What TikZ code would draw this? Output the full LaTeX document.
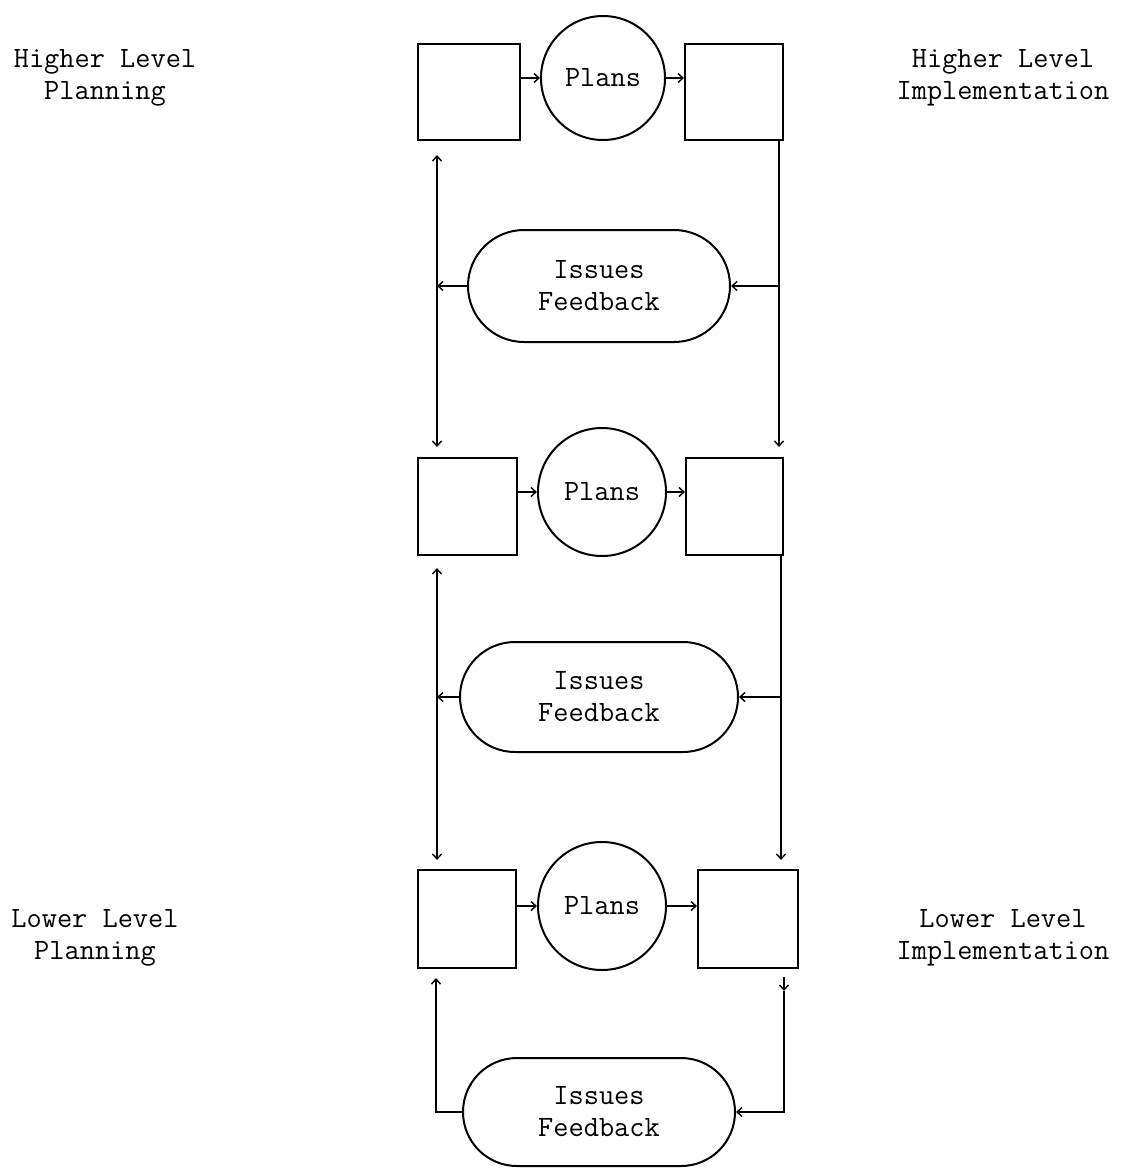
\documentclass[tikz,border=0pt]{standalone}
\usetikzlibrary{arrows.meta,shapes.misc}
\begin{document}
\begin{tikzpicture}[x=1pt,y=-1pt,
  every node/.style={font=\ttfamily\fontsize{29.5}{32}\selectfont},
  blk/.style={draw,line width=2pt,rectangle,inner sep=0pt},
  plan/.style={draw,line width=2pt,circle,inner sep=0pt,minimum size=#1},
  issue/.style={draw,line width=2pt,rounded rectangle,inner sep=0pt,align=center},
  lbl/.style={align=center},
  conn/.style={line width=1.4pt,-{Straight Barb[length=5pt,width=9pt]}},
  conn2/.style={line width=1.4pt,{Straight Barb[length=5pt,width=9pt]}-{Straight Barb[length=5pt,width=9pt]}}]
\useasboundingbox (0,0) rectangle (1125,1170);
% labels
\node[lbl] (hp) at (105,78) {Higher Level\\Planning};
\node[lbl] (hi) at (1003,78) {Higher Level\\Implementation};
\node[lbl] (lp) at (95,938) {Lower Level\\Planning};
\node[lbl] (li) at (1003,938) {Lower Level\\Implementation};
% row 1
\node[blk,minimum width=102pt,minimum height=96pt] (lb1) at (469,92) {};
\node[plan=124pt] (c1) at (603,78) {Plans};
\node[blk,minimum width=98pt,minimum height=96pt] (rb1) at (734,92) {};
% row 2
\node[blk,minimum width=99pt,minimum height=97pt] (lb2) at (467.5,506.5) {};
\node[plan=128pt] (c2) at (602,492) {Plans};
\node[blk,minimum width=97pt,minimum height=97pt] (rb2) at (734.5,506.5) {};
% row 3
\node[blk,minimum width=98pt,minimum height=98pt] (lb3) at (467,919) {};
\node[plan=128pt] (c3) at (602,906) {Plans};
\node[blk,minimum width=100pt,minimum height=98pt] (rb3) at (748,919) {};
% issues
\node[issue,minimum width=262pt,minimum height=112pt] (s1) at (599,286) {Issues\\Feedback};
\node[issue,minimum width=278pt,minimum height=110pt] (s2) at (599,697) {Issues\\Feedback};
\node[issue,minimum width=272pt,minimum height=108pt] (s3) at (599,1112) {Issues\\Feedback};
% horizontal arrows
\draw[conn] (lb1.east |- c1) -- (c1.west);
\draw[conn] (c1.east) -- (rb1.west |- c1);
\draw[conn] (lb2.east |- c2) -- (c2.west);
\draw[conn] (c2.east) -- (rb2.west |- c2);
\draw[conn] (lb3.east |- c3) -- (c3.west);
\draw[conn] (c3.east) -- (rb3.west |- c3);
% vertical links between rows 1 and 2
\coordinate (L1t) at (437,155);
\coordinate (L1b) at (437,447);
\draw[conn2] (L1t) -- (L1b);
\coordinate (R1t) at (779,140);
\coordinate (R1b) at (779,447);
\draw[conn] (R1t) -- (R1b);
\draw[conn] (s1.west) -- (s1.west -| L1t);
\draw[conn] (s1.east -| R1t) -- (s1.east);
% vertical links between rows 2 and 3
\coordinate (L2t) at (437,568);
\coordinate (L2b) at (437,860);
\draw[conn2] (L2t) -- (L2b);
\coordinate (R2t) at (781,555);
\coordinate (R2b) at (781,860);
\draw[conn] (R2t) -- (R2b);
\draw[conn] (s2.west) -- (s2.west -| L2t);
\draw[conn] (s2.east -| R2t) -- (s2.east);
% bottom loop
\coordinate (L3t) at (436,978);
\draw[conn] (s3.west) -| (L3t);
\coordinate (R3a) at (784,977);
\coordinate (R3b) at (784,991);
\draw[conn] (R3a) -- (R3b);
\draw[conn] (R3b) |- (s3.east);
\end{tikzpicture}
\end{document}
